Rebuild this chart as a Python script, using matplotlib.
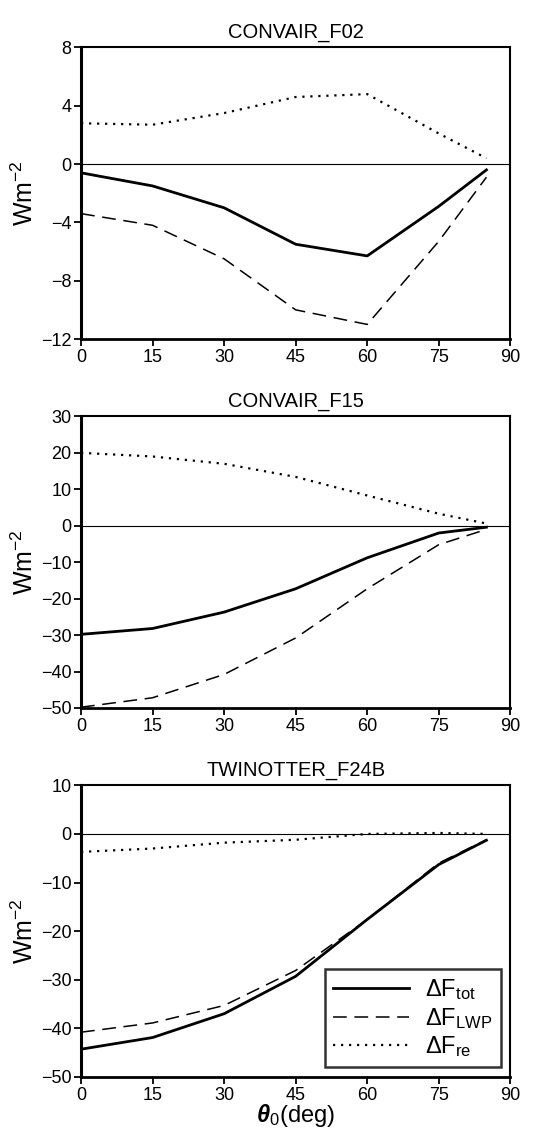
import numpy as np
import matplotlib
matplotlib.use('Agg')
import matplotlib.pyplot as plt

plt.rcParams['font.family'] = ['Liberation Sans', 'DejaVu Sans']
plt.rcParams['mathtext.fontset'] = 'custom'
plt.rcParams['mathtext.rm'] = 'Liberation Sans'
plt.rcParams['mathtext.it'] = 'Liberation Sans:italic'
plt.rcParams['mathtext.bf'] = 'Liberation Sans:bold:italic'

theta = [0, 15, 30, 45, 60, 75, 85]

titles = ['CONVAIR_F02', 'CONVAIR_F15', 'TWINOTTER_F24B']

tot_f02 = [-0.6, -1.5, -3.0, -5.5, -6.3, -2.9, -0.4]
lwp_f02 = [-3.4, -4.2, -6.5, -10.0, -11.0, -5.3, -0.9]
re_f02 = [2.8, 2.7, 3.5, 4.6, 4.8, 2.1, 0.4]

tot_f15 = [-29.8, -28.2, -23.7, -17.3, -8.8, -2.0, -0.4]
lwp_f15 = [-49.8, -47.2, -40.8, -30.8, -17.3, -5.2, -1.0]
re_f15 = [20.0, 19.0, 17.0, 13.4, 8.3, 3.3, 0.6]

tot_f24 = [-44.3, -41.9, -37.0, -29.3, -17.6, -6.3, -1.3]
lwp_f24 = [-40.8, -38.9, -35.3, -28.1, -17.6, -6.0, -1.2]
re_f24 = [-3.7, -3.0, -1.8, -1.2, 0.0, 0.2, 0.0]

series = [(tot_f02, lwp_f02, re_f02),
          (tot_f15, lwp_f15, re_f15),
          (tot_f24, lwp_f24, re_f24)]
ylims = [(-12, 8), (-50, 30), (-50, 10)]
yticks = [np.arange(-12, 9, 4), np.arange(-50, 31, 10), np.arange(-50, 11, 10)]

fig = plt.figure(figsize=(5.44, 11.3), dpi=100)
left, width = 0.149, 0.789
bottoms = [0.700, 0.3735, 0.047]
height = 0.258

for i in range(3):
    ax = fig.add_axes([left, bottoms[i], width, height])
    tot, lwp, re_ = series[i]
    ax.axhline(0, color='black', lw=0.8)
    ax.plot(theta, tot, color='black', lw=2.0, label=r'$\Delta\mathrm{F_{tot}}$')
    ax.plot(theta, lwp, color='black', lw=1.1, dashes=(9, 5),
            label=r'$\Delta\mathrm{F_{LWP}}$')
    ax.plot(theta, re_, color='black', lw=1.6, dashes=(1, 2.6),
            label=r'$\Delta\mathrm{F_{re}}$')
    ax.set_xlim(0, 90)
    ax.set_ylim(*ylims[i])
    ax.set_xticks([0, 15, 30, 45, 60, 75, 90])
    ax.set_yticks(yticks[i])
    ax.tick_params(direction='out', length=5, width=1.3, labelsize=13, pad=2)
    for s in ax.spines.values():
        s.set_linewidth(1.5)
    ax.spines['left'].set_linewidth(2.2)
    ax.spines['bottom'].set_linewidth(2.0)
    ax.set_title(titles[i], fontsize=14.5, pad=7)
    ax.set_ylabel(r'Wm$^{-2}$', fontsize=18, labelpad=2)
    if i == 2:
        ax.set_xlabel(r'$\mathbf{\theta}_{0}$(deg)', fontsize=17, labelpad=-1)
        leg = ax.legend(loc='lower right', fontsize=17, handlelength=3.2,
                        frameon=True, fancybox=False, edgecolor='black',
                        borderpad=0.35, labelspacing=0.15, handletextpad=0.7,
                        borderaxespad=0.4)
        leg.get_frame().set_linewidth(1.8)

fig.savefig('out.png', dpi=100)
